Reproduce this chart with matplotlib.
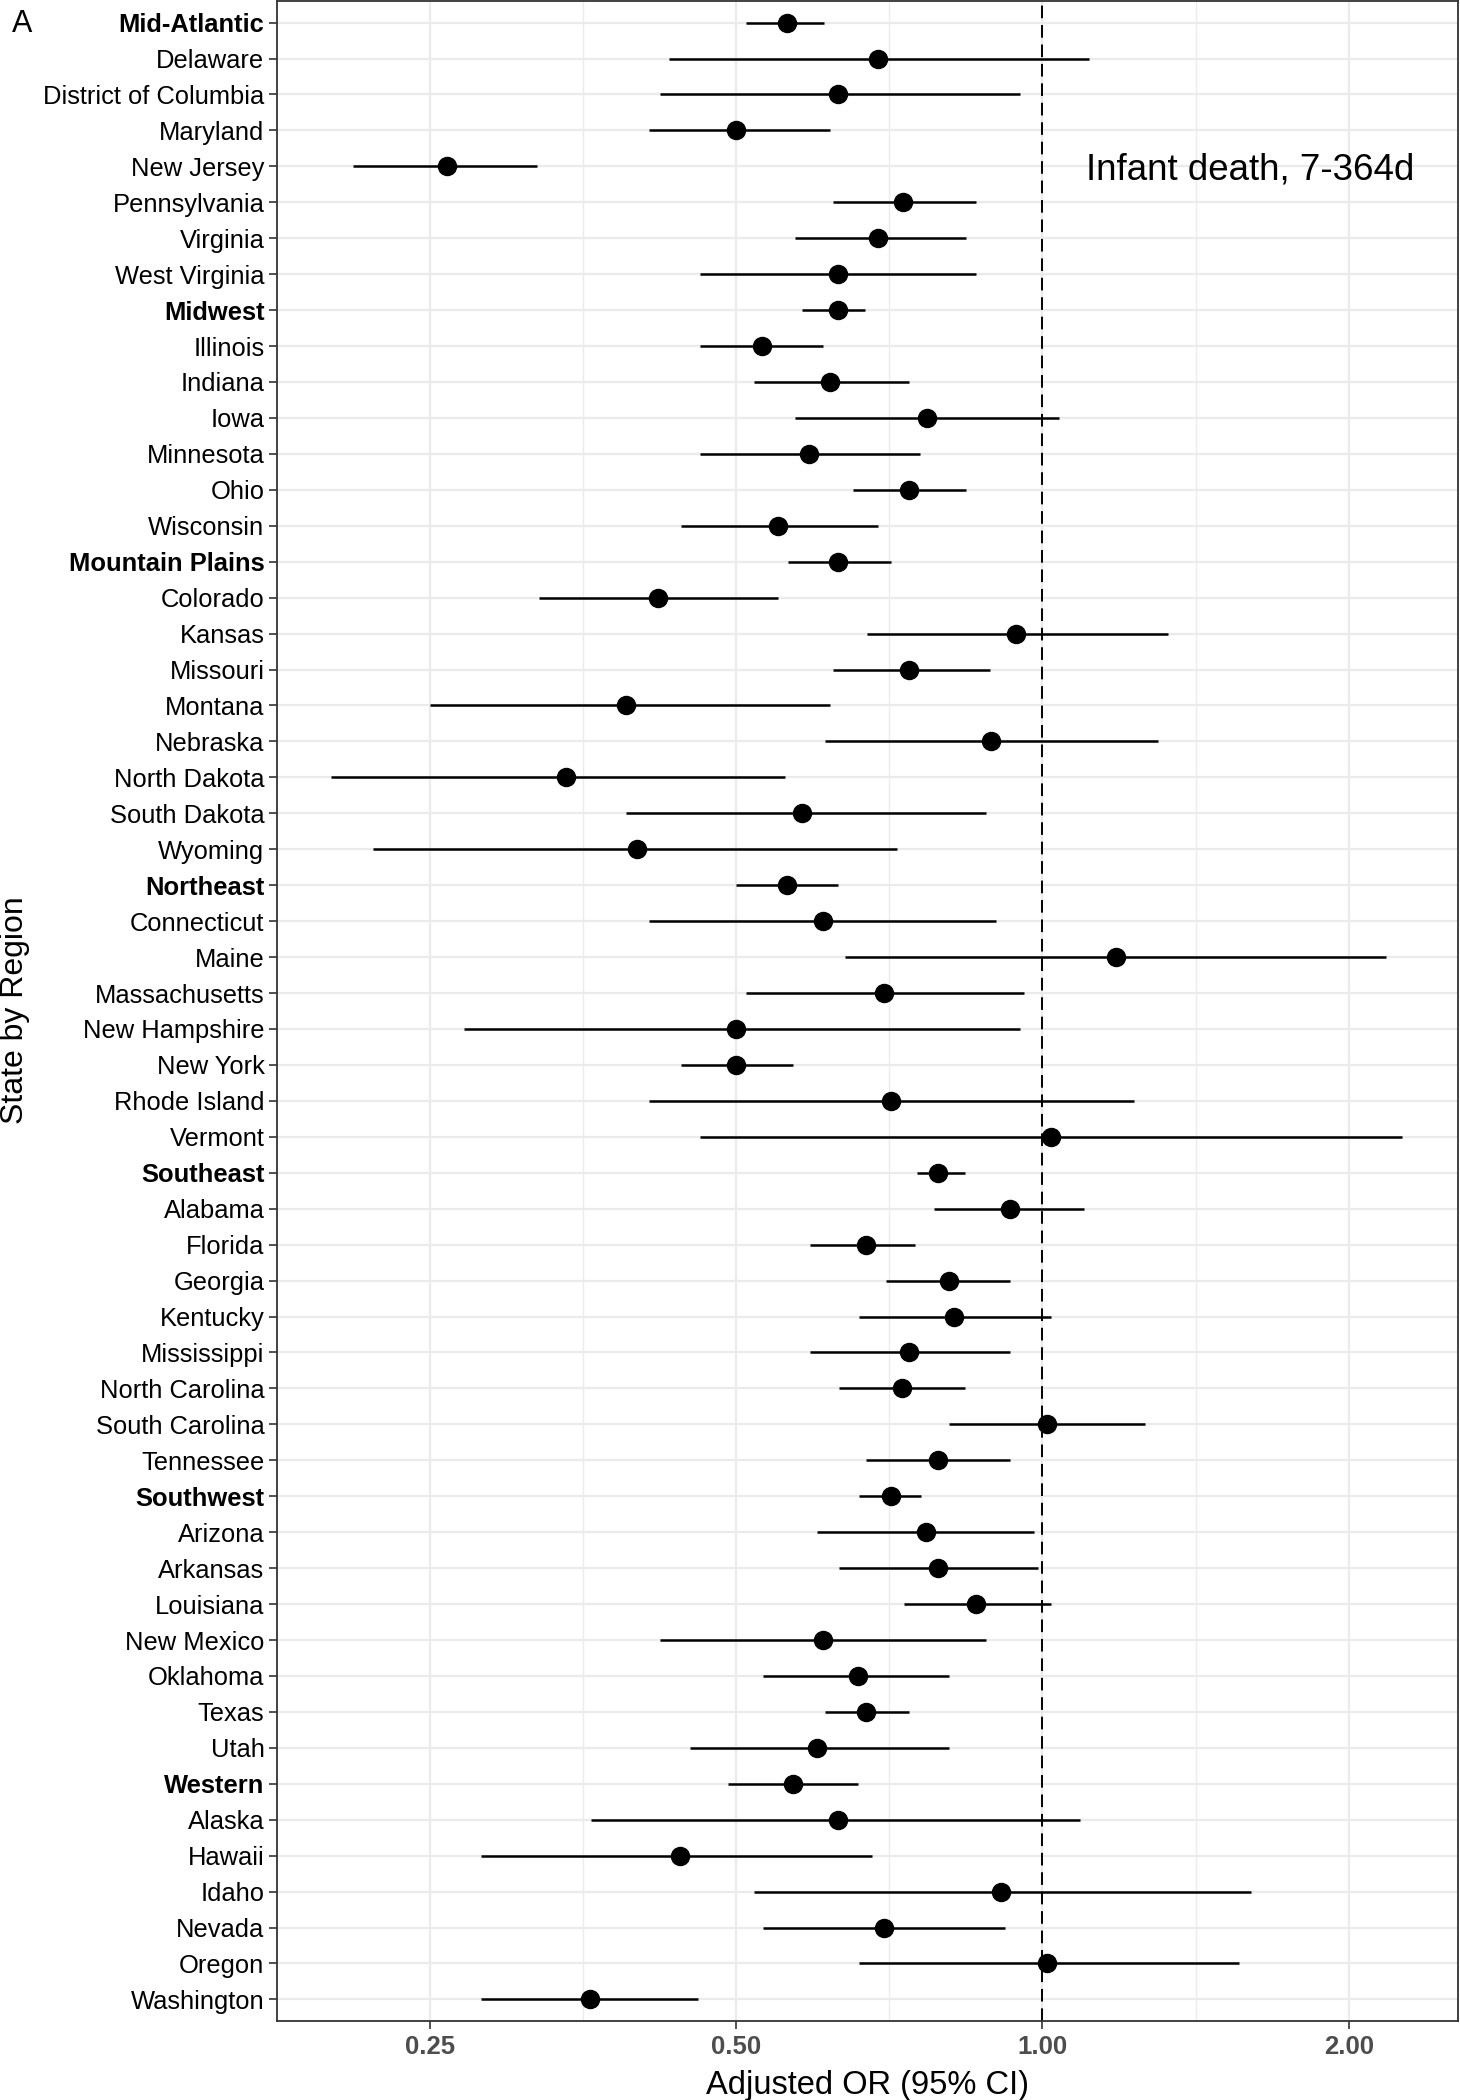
import numpy as np
import matplotlib
matplotlib.use("Agg")
import matplotlib.pyplot as plt
from matplotlib.ticker import FixedLocator, NullFormatter

plt.rcParams['font.family'] = ['Liberation Sans', 'DejaVu Sans']

# rows from top to bottom
states = ["Mid-Atlantic", "Delaware", "District of Columbia", "Maryland", "New Jersey",
          "Pennsylvania", "Virginia", "West Virginia",
          "Midwest", "Illinois", "Indiana", "Iowa", "Minnesota", "Ohio", "Wisconsin",
          "Mountain Plains", "Colorado", "Kansas", "Missouri", "Montana", "Nebraska",
          "North Dakota", "South Dakota", "Wyoming",
          "Northeast", "Connecticut", "Maine", "Massachusetts", "New Hampshire",
          "New York", "Rhode Island", "Vermont",
          "Southeast", "Alabama", "Florida", "Georgia", "Kentucky", "Mississippi",
          "North Carolina", "South Carolina", "Tennessee",
          "Southwest", "Arizona", "Arkansas", "Louisiana", "New Mexico", "Oklahoma",
          "Texas", "Utah",
          "Western", "Alaska", "Hawaii", "Idaho", "Nevada", "Oregon", "Washington"]
regions = ["Mid-Atlantic", "Midwest", "Mountain Plains", "Northeast",
           "Southeast", "Southwest", "Western"]

odds = [0.561, 0.689, 0.630, 0.500, 0.260, 0.729, 0.689, 0.630,
        0.630, 0.530, 0.619, 0.770, 0.590, 0.740, 0.550,
        0.630, 0.419, 0.941, 0.740, 0.390, 0.891, 0.340, 0.580, 0.400,
        0.561, 0.609, 1.181, 0.699, 0.500, 0.500, 0.710, 1.019,
        0.790, 0.929, 0.671, 0.809, 0.819, 0.740, 0.728, 1.011, 0.790,
        0.710, 0.769, 0.790, 0.860, 0.609, 0.659, 0.671, 0.600,
        0.569, 0.630, 0.440, 0.910, 0.699, 1.011, 0.359]
ci_low = [0.511, 0.430, 0.421, 0.411, 0.210, 0.622, 0.571, 0.461,
          0.581, 0.461, 0.521, 0.571, 0.461, 0.651, 0.441,
          0.562, 0.320, 0.672, 0.622, 0.250, 0.611, 0.200, 0.390, 0.220,
          0.500, 0.411, 0.640, 0.511, 0.270, 0.441, 0.411, 0.461,
          0.753, 0.782, 0.591, 0.702, 0.661, 0.591, 0.631, 0.810, 0.671,
          0.661, 0.601, 0.631, 0.731, 0.421, 0.531, 0.611, 0.451,
          0.491, 0.360, 0.281, 0.521, 0.531, 0.661, 0.281]
ci_high = [0.610, 1.111, 0.951, 0.619, 0.319, 0.860, 0.841, 0.860,
           0.669, 0.609, 0.739, 1.039, 0.758, 0.841, 0.689,
           0.710, 0.550, 1.328, 0.889, 0.619, 1.298, 0.559, 0.880, 0.720,
           0.630, 0.900, 2.173, 0.959, 0.951, 0.569, 1.229, 2.257,
           0.840, 1.099, 0.750, 0.929, 1.019, 0.929, 0.840, 1.260, 0.929,
           0.759, 0.981, 0.990, 1.019, 0.880, 0.809, 0.739, 0.809,
           0.659, 1.088, 0.680, 1.602, 0.919, 1.559, 0.459]

x_ticks = [0.25, 0.5, 1.0, 2.0]

fig = plt.figure(figsize=(14.6, 21), dpi=100)
ax = fig.add_axes([277 / 1460, 79 / 2100, 1181 / 1460, 2020 / 2100])

y = np.arange(len(states))
ax.hlines(y, ci_low, ci_high, color='black', lw=1.8, zorder=3)
ax.plot(odds, y, 'o', color='black', markersize=13, zorder=4)
ax.axvline(1.0, color='black', lw=1.4, linestyle=(0, (6.5, 3.5)), zorder=2)

ax.set_xscale('log')
ax.set_xlim(0.177, 2.56)
ax.set_ylim(len(states) - 0.4, -0.6)
ax.xaxis.set_major_locator(FixedLocator(x_ticks))
ax.set_xticklabels([f"{t:.2f}" for t in x_ticks])
ax.xaxis.set_minor_locator(FixedLocator([np.sqrt(a * b) for a, b in zip(x_ticks[:-1], x_ticks[1:])]))
ax.xaxis.set_minor_formatter(NullFormatter())

ax.set_yticks(y)
ax.set_yticklabels(states)
for lab in ax.get_yticklabels():
    if lab.get_text() in regions:
        lab.set_fontweight('bold')

ax.grid(which='major', color='#EBEBEB', lw=1.6, zorder=0)
ax.grid(which='minor', axis='x', color='#EBEBEB', lw=1.0, zorder=0)
ax.set_axisbelow(True)

for s in ax.spines.values():
    s.set_color('#333333')
    s.set_linewidth(1.3)

ax.tick_params(axis='y', which='major', length=6, width=1.2, color='#333333',
               labelsize=18.4, labelcolor='black', pad=3)
ax.tick_params(axis='x', which='major', length=6, width=1.2, color='#333333',
               labelsize=18.5, labelcolor='#4D4D4D', pad=4)
ax.tick_params(axis='x', which='minor', length=0)
for lab in ax.get_xticklabels():
    lab.set_fontweight('bold')

ax.set_xlabel("Adjusted OR (95% CI)", fontsize=23.5, labelpad=8)
fig.text(15 / 1460, 1 - 1010 / 2100, "State by Region", rotation=90,
         ha='center', va='center', fontsize=23)
fig.text(22 / 1460, 1 - 32 / 2100, "A", ha='center', va='baseline', fontsize=22)

ax.text(1.6, states.index("New Jersey"), "Infant death, 7-364d",
        ha='center', va='center_baseline', fontsize=26.5)

fig.savefig("out.png", dpi=100)
